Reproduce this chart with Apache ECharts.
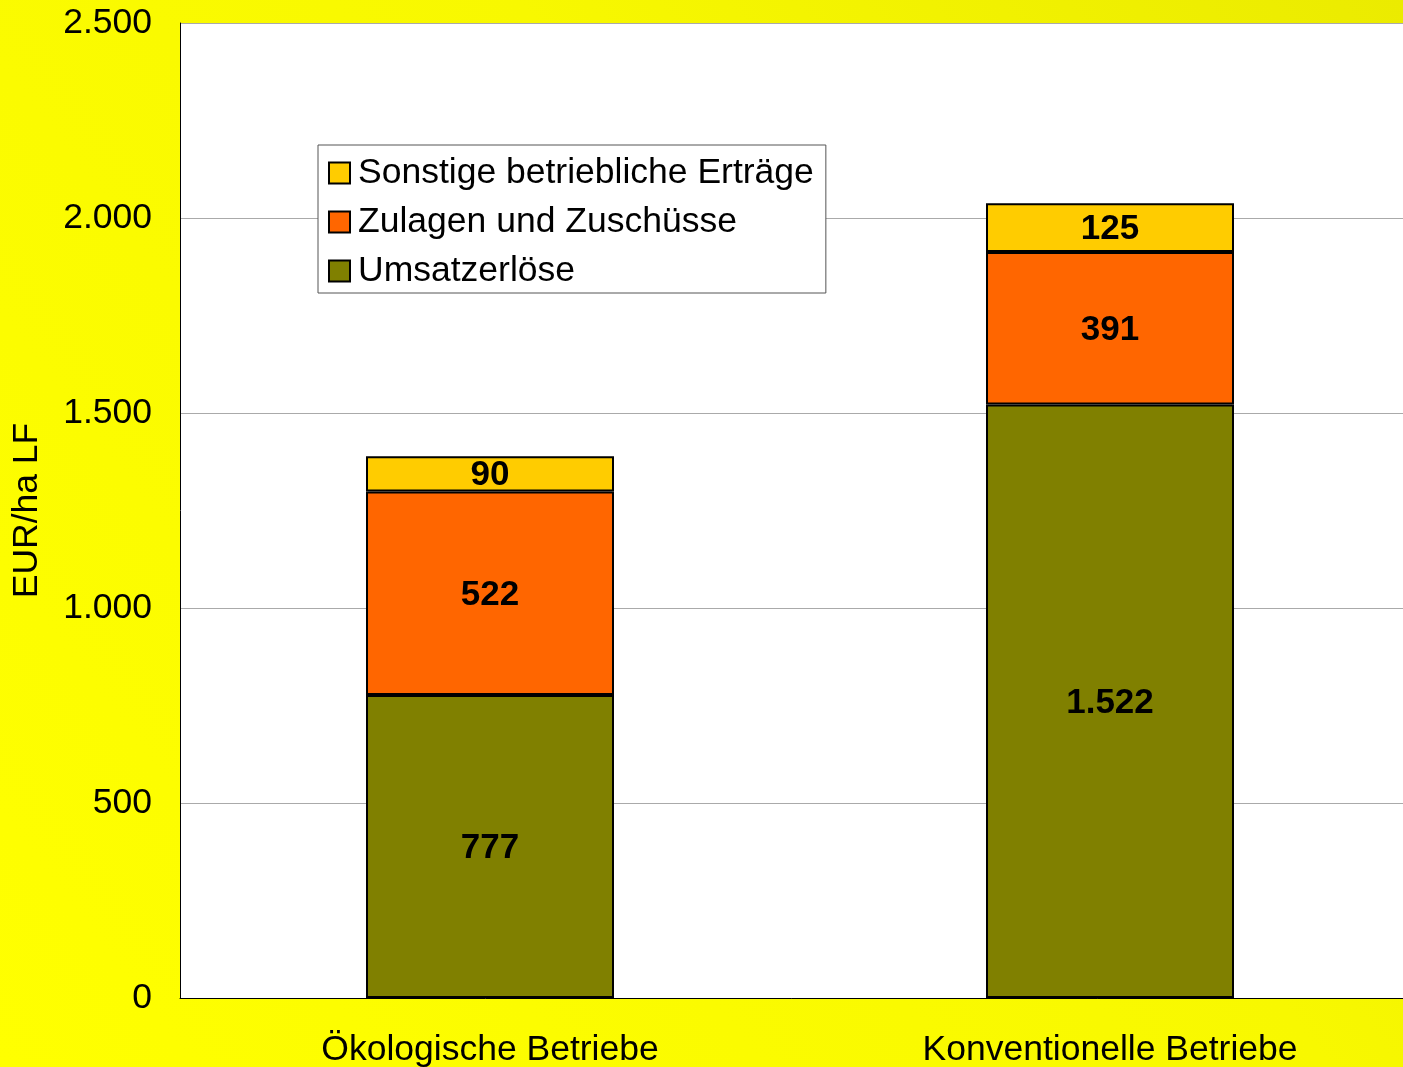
<!DOCTYPE html>
<html>
<head>
<meta charset="UTF-8">
<title>Erträge je ha LF</title>
<script src="https://cdn.jsdelivr.net/npm/echarts@6/dist/echarts.min.js"></script>
<style>
  html, body { margin: 0; padding: 0; }
  #main { width: 1403px; height: 1067px; }
</style>
</head>
<body>
<div id="main"></div>
<script type="text/javascript">
// Daten
var categories = ['Ökologische Betriebe', 'Konventionelle Betriebe'];
var umsatz = [777, 1522];
var zulagen = [522, 391];
var sonstige = [90, 125];
var yTicks = [0, 500, 1000, 1500, 2000, 2500];
var legendNames = ['Sonstige betriebliche Erträge', 'Zulagen und Zuschüsse', 'Umsatzerlöse'];

var font = 'Liberation Sans, Arial, sans-serif';
var fs = 35.5;

// Zahl mit Punkt als Tausendertrennzeichen
function fmt(v) {
    return String(v).replace(/\B(?=(\d{3})+(?!\d))/g, '.');
}

var myChart = echarts.init(document.getElementById('main'));

function barSeries(name, data, color) {
    return {
        name: name,
        type: 'bar',
        stack: 'total',
        data: data,
        barWidth: 248,
        itemStyle: { color: color, borderColor: '#000', borderWidth: 2 },
        label: {
            show: true,
            position: 'inside',
            offset: [0, 2],
            color: '#000',
            fontFamily: font,
            fontWeight: 'bold',
            fontSize: 35,
            formatter: function (p) { return fmt(p.value); }
        }
    };
}

var option = {
    backgroundColor: {
        type: 'linear', x: 0, y: 1, x2: 1, y2: 0,
        colorStops: [
            { offset: 0, color: '#ffff00' },
            { offset: 0.6, color: '#f8f800' },
            { offset: 1, color: '#ebeb00' }
        ]
    },
    animation: false,
    textStyle: { fontFamily: font },
    grid: {
        left: 180, top: 23, right: -17, bottom: 69,
        outerBoundsMode: 'none',
        containLabel: false,
        show: true, backgroundColor: '#ffffff', borderWidth: 0
    },
    legend: {
        data: legendNames,
        orient: 'vertical',
        left: 318,
        top: 145,
        backgroundColor: '#ffffff',
        borderColor: '#555',
        borderWidth: 1,
        padding: [10, 12, 4, 10],
        itemWidth: 21,
        itemHeight: 21,
        itemGap: 13,
        icon: 'rect',
        textStyle: { fontSize: fs, color: '#000', fontFamily: font, padding: [0, 0, 0, 3] }
    },
    xAxis: {
        type: 'category',
        data: categories,
        axisLine: { lineStyle: { color: '#000', width: 1 } },
        axisTick: { show: false },
        axisLabel: { color: '#000', fontSize: fs, fontFamily: font, margin: 34 }
    },
    yAxis: {
        type: 'value',
        min: yTicks[0],
        max: yTicks[yTicks.length - 1],
        interval: 500,
        name: 'EUR/ha LF',
        nameLocation: 'middle',
        nameGap: 135,
        nameRotate: 90,
        nameTextStyle: { color: '#000', fontSize: fs, fontFamily: font },
        axisLine: { show: true, lineStyle: { color: '#000', width: 1 } },
        axisTick: { show: false },
        splitLine: { lineStyle: { color: '#aaaaaa', width: 1 } },
        axisLabel: {
            color: '#000', fontSize: fs, fontFamily: font, margin: 28,
            formatter: function (v) { return fmt(v); }
        }
    },
    series: [
        barSeries('Umsatzerlöse', umsatz, '#808000'),
        barSeries('Zulagen und Zuschüsse', zulagen, '#ff6600'),
        barSeries('Sonstige betriebliche Erträge', sonstige, '#ffcc00')
    ]
};

myChart.setOption(option);
</script>
</body>
</html>
